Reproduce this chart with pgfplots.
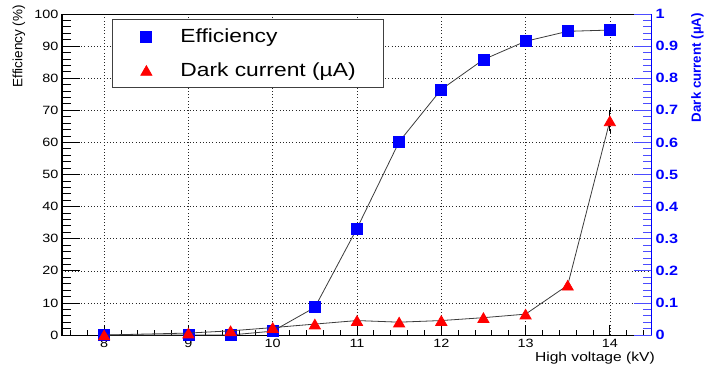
\documentclass[border=0pt]{standalone}
\usepackage{fontspec}
\setmainfont{Liberation Sans}
\usepackage{graphicx}
\usepackage{pgfplots}
\pgfplotsset{compat=1.18}
\newcommand\hs[1]{\scalebox{1.2}[1]{#1}}
\newcommand\fs[1]{\fontsize{#1}{#1}\selectfont}
\definecolor{lineg}{RGB}{60,60,60}
\definecolor{rblue}{RGB}{0,0,255}
\definecolor{rred}{RGB}{255,0,0}
\pgfplotsset{
  base/.style={scale only axis, width=590pt, height=321pt,
    xmin=7.5, xmax=14.5, clip=false, tick align=inside,
    /pgf/number format/assume math mode=true},
}
\begin{document}
\begin{tikzpicture}
% axis 1: frame, x ticks, grid, left labels, efficiency
\begin{axis}[base, ymin=0, ymax=100,
  xtick={8,...,14}, minor xtick={7.6,7.8,...,14.45},
  ytick={0,10,...,100}, minor ytick={2,4,...,98},
  xtick pos=bottom, ytick pos=left,
  major tick length=9.6pt, minor tick length=4.8pt,
  tick style={black, line width=0.8pt},
  axis line style={black, line width=1pt},
  grid=major,
  major grid style={black!85, line width=0.6pt, dash pattern=on 0.8pt off 2.4pt},
  xticklabel={\hs{\pgfmathprintnumber{\tick}}},
  yticklabel={\hs{\pgfmathprintnumber{\tick}}},
  xticklabel style={font=\fs{12}, yshift=-0.5pt},
  yticklabel style={font=\fs{12}},
  xlabel={\hs{High voltage (kV)}},
  ylabel={Efficiency (\%)},
  every axis x label/.style={at={(axis description cs:1.005,-0.053)}, anchor=north east, inner sep=0pt, font=\fs{13}},
  every axis y label/.style={at={(axis description cs:-0.073,1.028)}, rotate=90, anchor=east, inner sep=0pt, font=\fs{13.5}},
]
\addplot[lineg, line width=0.8pt, mark=square*, mark size=5.5pt, mark options={solid, draw=rblue, fill=rblue}]
 coordinates {(8,0)(9,0)(9.5,0)(10,1.2)(10.5,8.6)(11,33.2)(11.5,60.2)(12,76.5)(12.5,85.8)(13,91.5)(13.5,94.6)(14,95)};
\end{axis}
% axis 2: long left y ticks
\begin{axis}[base, ymin=0, ymax=100,
  axis x line=none, axis y line*=left,
  ytick={0,10,...,100}, minor ytick={2,4,...,98},
  yticklabels={},
  major tick length=17.7pt, minor tick length=8.9pt,
  tick style={black, line width=0.8pt},
  y axis line style={black, line width=1pt},
]
\addplot[draw=none] coordinates {(8,0)};
\end{axis}
% axis 3: right axis, dark current, legend
\begin{axis}[base, ymin=0, ymax=1,
  axis x line=none, axis y line*=right,
  ytick={0,0.1,0.2,0.3,0.4,0.5,0.6,0.7,0.8,0.9,1},
  minor ytick={0.02,0.04,...,0.99},
  major tick length=17.7pt, minor tick length=8.9pt,
  tick style={rblue!70, line width=0.8pt},
  y axis line style={rblue, line width=1pt},
  yticklabel={\hs{\pgfmathprintnumber{\tick}}},
  yticklabel style={font=\bfseries\fs{13.5}, text=rblue},
  ylabel={Dark current (µA)},
  every axis y label/.style={at={(axis description cs:1.0771,1.003)}, rotate=90, anchor=east, inner sep=0pt, font=\bfseries\fs{13.3}, text=rblue},
  legend style={at={(axis description cs:0.0847,0.984)}, anchor=north west, draw=black!75, line width=0.8pt, fill=white, inner sep=0pt, nodes={inner sep=0pt}, font=\fs{19}, row sep=0pt},
  legend cell align=left,
  legend image code/.code={\path[draw=none, fill=none] (0pt,-17pt) rectangle (68pt,17pt); \draw[#1] plot[only marks] coordinates {(34pt,0pt)};},
]
\addlegendimage{mark=square*, mark size=5.5pt, mark options={solid, draw=rblue, fill=rblue}}
\addlegendentry{\hs{Efficiency}}
\addplot[lineg, line width=0.8pt, mark=triangle*, mark size=6.4pt, mark options={solid, draw=rred, fill=rred, yshift=-1.6pt},
  error bars/.cd, y dir=both, y explicit, error bar style={black, line width=0.8pt}, error mark options={black, mark size=2pt}]
 coordinates {(8,0) (9,0.006) (9.5,0.013) (10,0.023) (10.5,0.034) (11,0.045) (11.5,0.040) (12,0.045) (12.5,0.054) (13,0.065) (13.5,0.155) (14,0.667) +- (0,0.033)};
\addlegendentry{\hs{Dark current (µA)}\hspace*{28pt}}
\end{axis}
\pgfresetboundingbox
\path[use as bounding box] (current axis.south west) ++(-62pt,-33pt) rectangle ++(705pt,368pt);
\end{tikzpicture}
\end{document}
